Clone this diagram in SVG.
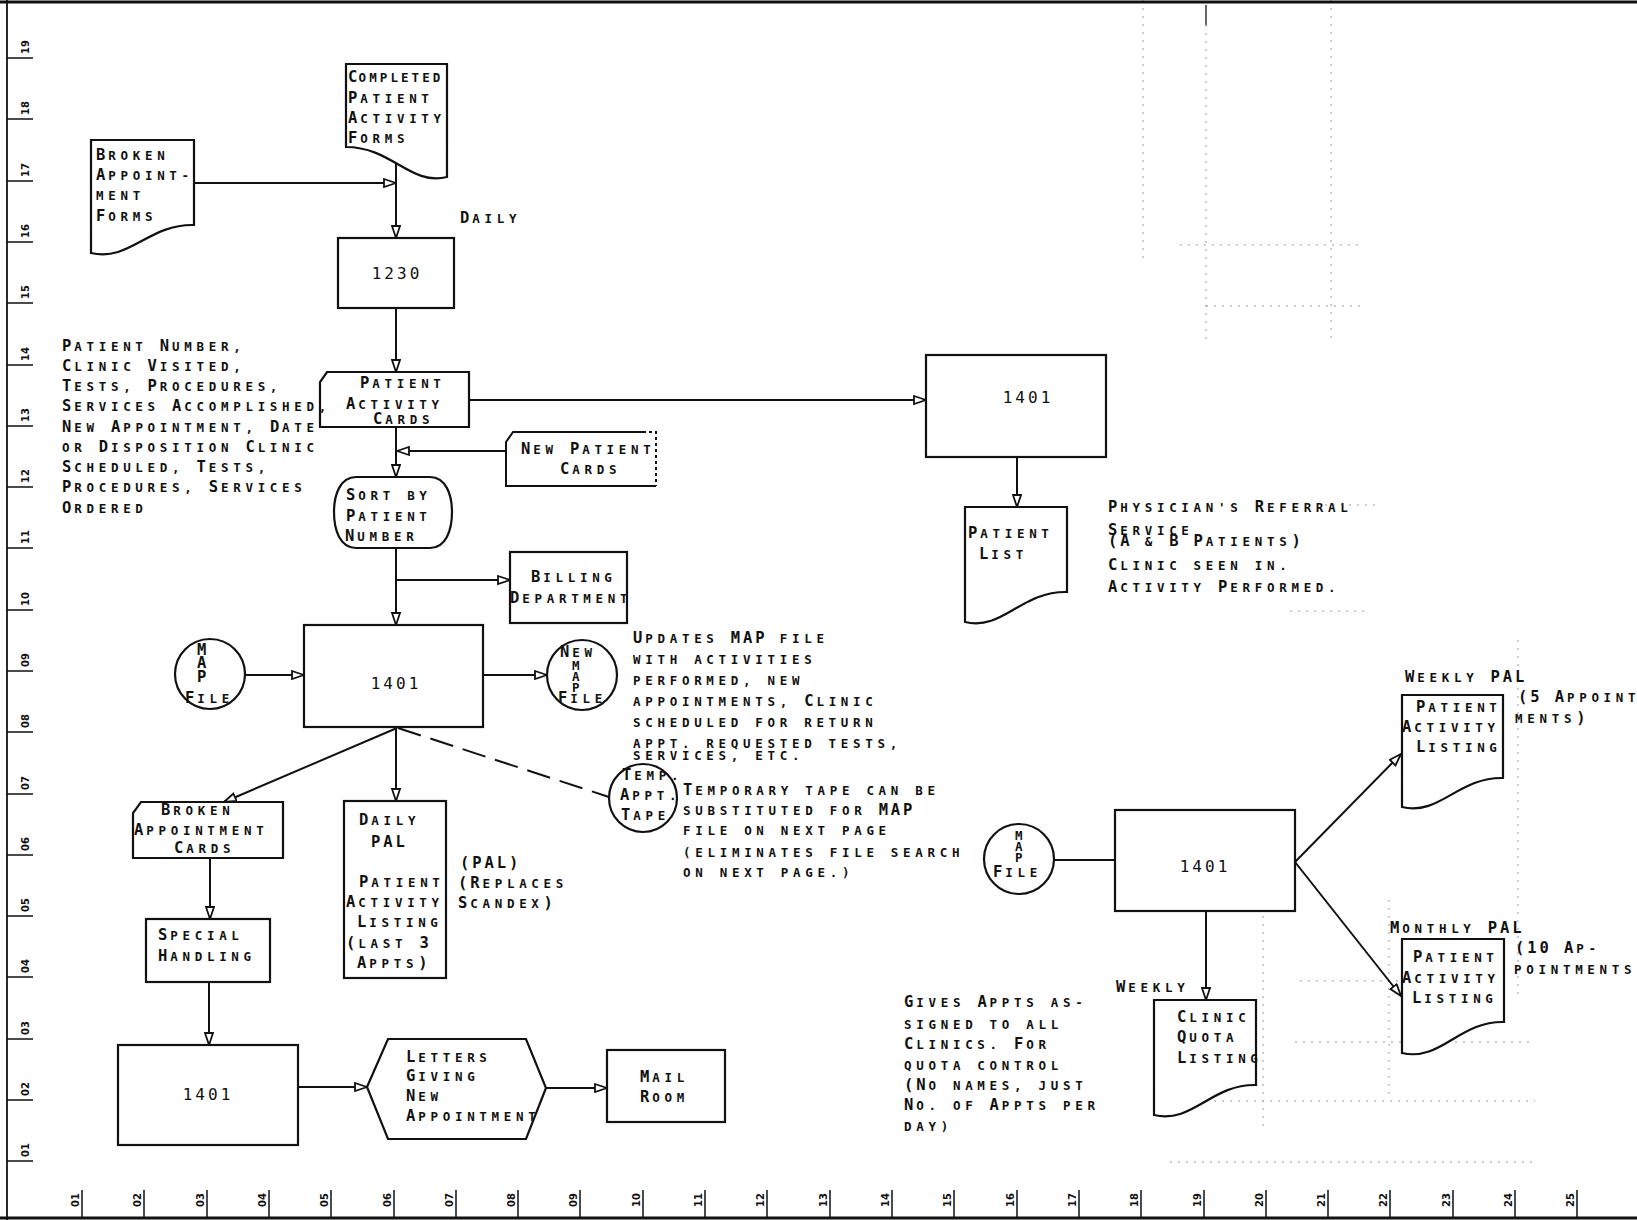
<svg xmlns="http://www.w3.org/2000/svg" width="1637" height="1220" viewBox="0 0 1637 1220">
<defs>
<style>
.t{font-family:"DejaVu Sans Mono","Liberation Mono",monospace;font-size:12.5px;font-weight:bold;letter-spacing:4.7px;fill:#111}
.c{font-size:15.5px;letter-spacing:2.9px}
.d{font-family:"DejaVu Sans Mono","Liberation Mono",monospace;font-size:16px;letter-spacing:3px;fill:#111;text-anchor:middle}
.b{fill:#fff;stroke:#111;stroke-width:2.2}
.ln{fill:none;stroke:#111;stroke-width:2}
.ax{font-family:"DejaVu Sans","Liberation Sans",sans-serif;font-size:10px;font-weight:bold;fill:#111;text-anchor:middle}
.g{fill:none;stroke:#9a9a9a;stroke-width:1;stroke-dasharray:2 6}
</style>
<marker id="ah" viewBox="0 0 14 10" refX="13" refY="5" markerWidth="14" markerHeight="10" markerUnits="userSpaceOnUse" orient="auto">
<path d="M1,1 L13,5 L1,9 Z" fill="#fff" stroke="#111" stroke-width="1.8"/>
</marker>
</defs>
<rect width="1637" height="1220" fill="#fff"/>

<g id="grid">
<path class="g" d="M1143,0 V262 M1206,25 V340 M1331,0 V340 M1180,245 H1362 M1206,306 H1362 M1518,640 V1000 M1263,900 V1130 M1389,900 V1100 M1300,981 H1400 M1295,1042 H1535 M1206,1101 H1535 M1170,1162 H1535 M1325,505 H1375 M1290,611 H1370"/>
<path d="M1206,5 V25" stroke="#333" stroke-width="1.5"/>
</g>

<g id="axes">
<path d="M0,2 H1637" stroke="#111" stroke-width="3"/>
<path d="M0,1218 H1637" stroke="#111" stroke-width="3"/>
<path d="M7,0 V1220" stroke="#111" stroke-width="1.8"/>
<g stroke="#111" stroke-width="1.5" fill="none">
<path d="M7,58H33 M7,119H33 M7,181H33 M7,242H33 M7,303H33 M7,365H33 M7,426H33 M7,487H33 M7,548H33 M7,610H33 M7,671H33 M7,732H33 M7,794H33 M7,855H33 M7,916H33 M7,977H33 M7,1039H33 M7,1100H33 M7,1161H33"/>
<path d="M82,1190V1218 M144,1190V1218 M207,1190V1218 M269,1190V1218 M331,1190V1218 M394,1190V1218 M456,1190V1218 M518,1190V1218 M580,1190V1218 M643,1190V1218 M705,1190V1218 M767,1190V1218 M830,1190V1218 M892,1190V1218 M954,1190V1218 M1017,1190V1218 M1079,1190V1218 M1141,1190V1218 M1204,1190V1218 M1266,1190V1218 M1328,1190V1218 M1390,1190V1218 M1453,1190V1218 M1515,1190V1218 M1577,1190V1218"/>
</g>
<g class="ax">
<text transform="translate(29,47) rotate(-90)">19</text>
<text transform="translate(29,108) rotate(-90)">18</text>
<text transform="translate(29,170) rotate(-90)">17</text>
<text transform="translate(29,231) rotate(-90)">16</text>
<text transform="translate(29,292) rotate(-90)">15</text>
<text transform="translate(29,354) rotate(-90)">14</text>
<text transform="translate(29,415) rotate(-90)">13</text>
<text transform="translate(29,476) rotate(-90)">12</text>
<text transform="translate(29,537) rotate(-90)">11</text>
<text transform="translate(29,599) rotate(-90)">10</text>
<text transform="translate(29,660) rotate(-90)">09</text>
<text transform="translate(29,721) rotate(-90)">08</text>
<text transform="translate(29,783) rotate(-90)">07</text>
<text transform="translate(29,844) rotate(-90)">06</text>
<text transform="translate(29,905) rotate(-90)">05</text>
<text transform="translate(29,966) rotate(-90)">04</text>
<text transform="translate(29,1028) rotate(-90)">03</text>
<text transform="translate(29,1089) rotate(-90)">02</text>
<text transform="translate(29,1150) rotate(-90)">01</text>
<text transform="translate(79,1200) rotate(-90)">01</text>
<text transform="translate(141,1200) rotate(-90)">02</text>
<text transform="translate(204,1200) rotate(-90)">03</text>
<text transform="translate(266,1200) rotate(-90)">04</text>
<text transform="translate(328,1200) rotate(-90)">05</text>
<text transform="translate(391,1200) rotate(-90)">06</text>
<text transform="translate(453,1200) rotate(-90)">07</text>
<text transform="translate(515,1200) rotate(-90)">08</text>
<text transform="translate(577,1200) rotate(-90)">09</text>
<text transform="translate(640,1200) rotate(-90)">10</text>
<text transform="translate(702,1200) rotate(-90)">11</text>
<text transform="translate(764,1200) rotate(-90)">12</text>
<text transform="translate(827,1200) rotate(-90)">13</text>
<text transform="translate(889,1200) rotate(-90)">14</text>
<text transform="translate(951,1200) rotate(-90)">15</text>
<text transform="translate(1014,1200) rotate(-90)">16</text>
<text transform="translate(1076,1200) rotate(-90)">17</text>
<text transform="translate(1138,1200) rotate(-90)">18</text>
<text transform="translate(1201,1200) rotate(-90)">19</text>
<text transform="translate(1263,1200) rotate(-90)">20</text>
<text transform="translate(1325,1200) rotate(-90)">21</text>
<text transform="translate(1387,1200) rotate(-90)">22</text>
<text transform="translate(1450,1200) rotate(-90)">23</text>
<text transform="translate(1512,1200) rotate(-90)">24</text>
<text transform="translate(1574,1200) rotate(-90)">25</text>
</g>
</g>

<g id="connectors">
<path class="ln" marker-end="url(#ah)" d="M194,183 H396"/>
<path class="ln" marker-end="url(#ah)" d="M396,163 V238"/>
<path class="ln" marker-end="url(#ah)" d="M396,308 V372"/>
<path class="ln" marker-end="url(#ah)" d="M469,400 H926"/>
<path class="ln" marker-end="url(#ah)" d="M1017,457 V507"/>
<path class="ln" marker-end="url(#ah)" d="M396,427 V477"/>
<path class="ln" marker-end="url(#ah)" d="M506,451 H397"/>
<path class="ln" marker-end="url(#ah)" d="M396,580 H510"/>
<path class="ln" marker-end="url(#ah)" d="M396,548 V625"/>
<path class="ln" marker-end="url(#ah)" d="M245,675 H304"/>
<path class="ln" marker-end="url(#ah)" d="M483,675 H547"/>
<path class="ln" marker-end="url(#ah)" d="M397,728 L224,802"/>
<path class="ln" marker-end="url(#ah)" d="M396,728 V801"/>
<path class="ln" stroke-dasharray="24 10" d="M398,728 L609,797"/>
<path class="ln" marker-end="url(#ah)" d="M210,858 V919"/>
<path class="ln" marker-end="url(#ah)" d="M209,982 V1045"/>
<path class="ln" marker-end="url(#ah)" d="M298,1087 H367"/>
<path class="ln" marker-end="url(#ah)" d="M546,1088 H607"/>
<path class="ln" d="M1054,860 H1115"/>
<path class="ln" marker-end="url(#ah)" d="M1295,862 L1401,754"/>
<path class="ln" marker-end="url(#ah)" d="M1295,862 L1401,996"/>
<path class="ln" marker-end="url(#ah)" d="M1206,911 V1000"/>
</g>

<g id="broken-appointment-forms">
<path class="b" d="M91,140 H194 V225 C148,224 130,262 91,253 Z"/>
<text class="t" x="96" y="160"><tspan class="c">B</tspan>ROKEN</text>
<text class="t" x="96" y="180"><tspan class="c">A</tspan>PPOINT-</text>
<text class="t" x="96" y="200">MENT</text>
<text class="t" x="96" y="221"><tspan class="c">F</tspan>ORMS</text>
</g>

<g id="completed-forms">
<path class="b" d="M346,64 H447 V177 C410,186 392,147 346,147 Z"/>
<text class="t" x="348" y="82" textLength="97" lengthAdjust="spacing"><tspan class="c">C</tspan>OMPLETED</text>
<text class="t" x="348" y="103"><tspan class="c">P</tspan>ATIENT</text>
<text class="t" x="348" y="123"><tspan class="c">A</tspan>CTIVITY</text>
<text class="t" x="348" y="143"><tspan class="c">F</tspan>ORMS</text>
</g>

<g id="daily-label">
<text class="t" x="460" y="223"><tspan class="c">D</tspan>AILY</text>
</g>

<g id="p1230">
<rect class="b" x="338" y="238" width="116" height="70"/>
<text class="d" x="397" y="279">1230</text>
</g>

<g id="patient-activity-cards">
<path class="b" d="M327,372 H469 V427 H320 V382 Z"/>
<text class="t" x="360" y="388"><tspan class="c">P</tspan>ATIENT</text>
<text class="t" x="346" y="409"><tspan class="c">A</tspan>CTIVITY</text>
<text class="t" x="373" y="424"><tspan class="c">C</tspan>ARDS</text>
</g>

<g id="card-fields-note">
<text class="t" x="62" y="351"><tspan class="c">P</tspan>ATIENT <tspan class="c">N</tspan>UMBER,</text>
<text class="t" x="62" y="371"><tspan class="c">C</tspan>LINIC <tspan class="c">V</tspan>ISITED,</text>
<text class="t" x="62" y="391"><tspan class="c">T</tspan>ESTS, <tspan class="c">P</tspan>ROCEDURES,</text>
<text class="t" x="62" y="411"><tspan class="c">S</tspan>ERVICES <tspan class="c">A</tspan>CCOMPLISHED,</text>
<text class="t" x="62" y="432"><tspan class="c">N</tspan>EW <tspan class="c">A</tspan>PPOINTMENT, <tspan class="c">D</tspan>ATE</text>
<text class="t" x="62" y="452">OR <tspan class="c">D</tspan>ISPOSITION <tspan class="c">C</tspan>LINIC</text>
<text class="t" x="62" y="472"><tspan class="c">S</tspan>CHEDULED, <tspan class="c">T</tspan>ESTS,</text>
<text class="t" x="62" y="492"><tspan class="c">P</tspan>ROCEDURES, <tspan class="c">S</tspan>ERVICES</text>
<text class="t" x="62" y="513"><tspan class="c">O</tspan>RDERED</text>
</g>

<g id="new-patient-cards">
<path d="M513,432 H656 V486 H506 V442 Z" fill="#fff"/>
<path class="ln" stroke-width="2.2" d="M643,432 H513 L506,442 V486 H656"/>
<path class="ln" stroke-width="1.5" stroke-dasharray="3 3" d="M643,432 H656 V486"/>
<text class="t" x="521" y="454"><tspan class="c">N</tspan>EW <tspan class="c">P</tspan>ATIENT</text>
<text class="t" x="560" y="474"><tspan class="c">C</tspan>ARDS</text>
</g>

<g id="sort">
<path class="b" d="M356,477 H430 C446,477 452,495 452,512 C452,530 446,548 430,548 H356 C340,548 334,530 334,512 C334,495 340,477 356,477 Z"/>
<text class="t" x="346" y="500"><tspan class="c">S</tspan>ORT BY</text>
<text class="t" x="346" y="521"><tspan class="c">P</tspan>ATIENT</text>
<text class="t" x="345" y="541"><tspan class="c">N</tspan>UMBER</text>
</g>

<g id="billing">
<rect class="b" x="510" y="552" width="117" height="71"/>
<text class="t" x="531" y="582"><tspan class="c">B</tspan>ILLING</text>
<text class="t" x="510" y="603"><tspan class="c">D</tspan>EPARTMENT</text>
</g>

<g id="p1401-referral">
<rect class="b" x="926" y="355" width="180" height="102"/>
<text class="d" x="1028" y="403">1401</text>
</g>

<g id="patient-list">
<path class="b" d="M965,507 H1067 V592 C1021,591 1003,631 965,622 Z"/>
<text class="t" x="968" y="538"><tspan class="c">P</tspan>ATIENT</text>
<text class="t" x="979" y="559"><tspan class="c">L</tspan>IST</text>
</g>

<g id="referral-note">
<text class="t" x="1108" y="512"><tspan class="c">P</tspan>HYSICIAN'S <tspan class="c">R</tspan>EFERRAL</text>
<text class="t" x="1108" y="535"><tspan class="c">S</tspan>ERVICE</text>
<text class="t" x="1108" y="546"><tspan class="c">(A</tspan> &amp; <tspan class="c">B P</tspan>ATIENTS<tspan class="c">)</tspan></text>
<text class="t" x="1108" y="570"><tspan class="c">C</tspan>LINIC SEEN IN.</text>
<text class="t" x="1108" y="592"><tspan class="c">A</tspan>CTIVITY <tspan class="c">P</tspan>ERFORMED.</text>
</g>

<g id="map-file">
<circle class="b" cx="210" cy="674" r="35"/>
<text class="t c" x="203" y="655" text-anchor="middle">M</text>
<text class="t c" x="203" y="668" text-anchor="middle">A</text>
<text class="t c" x="203" y="682" text-anchor="middle">P</text>
<text class="t" x="185" y="703"><tspan class="c">F</tspan>ILE</text>
</g>

<g id="p1401-main">
<rect class="b" x="304" y="625" width="179" height="102"/>
<text class="d" x="396" y="689">1401</text>
</g>

<g id="new-map-file">
<circle class="b" cx="582" cy="675" r="35"/>
<text class="t" x="560" y="657"><tspan class="c">N</tspan>EW</text>
<text class="t" x="578" y="670" text-anchor="middle">M</text>
<text class="t" x="578" y="681" text-anchor="middle">A</text>
<text class="t" x="578" y="692" text-anchor="middle">P</text>
<text class="t" x="558" y="703"><tspan class="c">F</tspan>ILE</text>
</g>

<g id="updates-note">
<text class="t" x="633" y="643"><tspan class="c">U</tspan>PDATES <tspan class="c">MAP</tspan> FILE</text>
<text class="t" x="633" y="664">WITH ACTIVITIES</text>
<text class="t" x="633" y="685">PERFORMED, NEW</text>
<text class="t" x="633" y="706">APPOINTMENTS, <tspan class="c">C</tspan>LINIC</text>
<text class="t" x="633" y="727">SCHEDULED FOR RETURN</text>
<text class="t" x="633" y="748">APPT. REQUESTED TESTS,</text>
<text class="t" x="633" y="760">SERVICES, ETC.</text>
</g>

<g id="temp-tape">
<circle class="b" cx="643" cy="798" r="34"/>
<text class="t" x="622" y="780"><tspan class="c">T</tspan>EMP.</text>
<text class="t" x="620" y="800"><tspan class="c">A</tspan>PPT.</text>
<text class="t" x="621" y="820"><tspan class="c">T</tspan>APE</text>
</g>

<g id="temp-note">
<text class="t" x="683" y="795"><tspan class="c">T</tspan>EMPORARY TAPE CAN BE</text>
<text class="t" x="683" y="815">SUBSTITUTED FOR <tspan class="c">MAP</tspan></text>
<text class="t" x="683" y="835">FILE ON NEXT PAGE</text>
<text class="t" x="683" y="857">(ELIMINATES FILE SEARCH</text>
<text class="t" x="683" y="877">ON NEXT PAGE.)</text>
</g>

<g id="broken-appointment-cards">
<path class="b" d="M141,802 H283 V858 H133 V813 Z"/>
<text class="t" x="161" y="815"><tspan class="c">B</tspan>ROKEN</text>
<text class="t" x="134" y="835"><tspan class="c">A</tspan>PPOINTMENT</text>
<text class="t" x="174" y="853"><tspan class="c">C</tspan>ARDS</text>
</g>

<g id="daily-pal">
<rect class="b" x="344" y="801" width="102" height="177"/>
<text class="t" x="359" y="825"><tspan class="c">D</tspan>AILY</text>
<text class="t" x="371" y="847"><tspan class="c">PAL</tspan></text>
<text class="t" x="359" y="887"><tspan class="c">P</tspan>ATIENT</text>
<text class="t" x="346" y="907"><tspan class="c">A</tspan>CTIVITY</text>
<text class="t" x="357" y="927"><tspan class="c">L</tspan>ISTING</text>
<text class="t" x="346" y="948"><tspan class="c">(</tspan>LAST <tspan class="c">3</tspan></text>
<text class="t" x="357" y="968"><tspan class="c">A</tspan>PPTS<tspan class="c">)</tspan></text>
</g>

<g id="pal-note">
<text class="t" x="460" y="868"><tspan class="c">(PAL)</tspan></text>
<text class="t" x="458" y="888"><tspan class="c">(R</tspan>EPLACES</text>
<text class="t" x="458" y="908"><tspan class="c">S</tspan>CANDEX<tspan class="c">)</tspan></text>
</g>

<g id="special-handling">
<rect class="b" x="146" y="919" width="124" height="63"/>
<text class="t" x="158" y="940"><tspan class="c">S</tspan>PECIAL</text>
<text class="t" x="158" y="961"><tspan class="c">H</tspan>ANDLING</text>
</g>

<g id="p1401-letters">
<rect class="b" x="118" y="1045" width="180" height="100"/>
<text class="d" x="208" y="1100">1401</text>
</g>

<g id="letters">
<polygon class="b" points="367,1087 388,1039 526,1039 546,1088 526,1139 388,1139"/>
<text class="t" x="406" y="1062"><tspan class="c">L</tspan>ETTERS</text>
<text class="t" x="406" y="1081"><tspan class="c">G</tspan>IVING</text>
<text class="t" x="406" y="1101"><tspan class="c">N</tspan>EW</text>
<text class="t" x="406" y="1121"><tspan class="c">A</tspan>PPOINTMENT</text>
</g>

<g id="mail-room">
<rect class="b" x="607" y="1050" width="118" height="72"/>
<text class="t" x="640" y="1082"><tspan class="c">M</tspan>AIL</text>
<text class="t" x="640" y="1102"><tspan class="c">R</tspan>OOM</text>
</g>

<g id="map-file-2">
<circle class="b" cx="1019" cy="859" r="35"/>
<text class="t" x="1021" y="840" text-anchor="middle">M</text>
<text class="t" x="1021" y="851" text-anchor="middle">A</text>
<text class="t" x="1021" y="862" text-anchor="middle">P</text>
<text class="t" x="993" y="877"><tspan class="c">F</tspan>ILE</text>
</g>

<g id="p1401-pal">
<rect class="b" x="1115" y="810" width="180" height="101"/>
<text class="d" x="1205" y="872">1401</text>
</g>

<g id="weekly-pal">
<path class="b" d="M1402,695 H1503 V778 C1458,777 1440,816 1402,807 Z"/>
<text class="t" x="1416" y="712"><tspan class="c">P</tspan>ATIENT</text>
<text class="t" x="1402" y="732"><tspan class="c">A</tspan>CTIVITY</text>
<text class="t" x="1416" y="752"><tspan class="c">L</tspan>ISTING</text>
<text class="t" x="1405" y="682"><tspan class="c">W</tspan>EEKLY <tspan class="c">PAL</tspan></text>
<text class="t" x="1518" y="702"><tspan class="c">(5 A</tspan>PPOINT</text>
<text class="t" x="1515" y="723">MENTS<tspan class="c">)</tspan></text>
</g>

<g id="monthly-pal">
<path class="b" d="M1402,939 H1504 V1022 C1459,1021 1441,1062 1402,1053 Z"/>
<text class="t" x="1413" y="962"><tspan class="c">P</tspan>ATIENT</text>
<text class="t" x="1402" y="983"><tspan class="c">A</tspan>CTIVITY</text>
<text class="t" x="1412" y="1003"><tspan class="c">L</tspan>ISTING</text>
<text class="t" x="1390" y="933"><tspan class="c">M</tspan>ONTHLY <tspan class="c">PAL</tspan></text>
<text class="t" x="1515" y="953"><tspan class="c">(10 A</tspan>P-</text>
<text class="t" x="1514" y="974">POINTMENTS</text>
</g>

<g id="clinic-quota">
<path class="b" d="M1154,1000 H1256 V1085 C1211,1084 1193,1124 1154,1115 Z"/>
<text class="t" x="1177" y="1022"><tspan class="c">C</tspan>LINIC</text>
<text class="t" x="1177" y="1042"><tspan class="c">Q</tspan>UOTA</text>
<text class="t" x="1177" y="1063"><tspan class="c">L</tspan>ISTING</text>
<text class="t" x="1116" y="992"><tspan class="c">W</tspan>EEKLY</text>
</g>

<g id="quota-note">
<text class="t" x="904" y="1007"><tspan class="c">G</tspan>IVES <tspan class="c">A</tspan>PPTS AS-</text>
<text class="t" x="904" y="1029">SIGNED TO ALL</text>
<text class="t" x="904" y="1049"><tspan class="c">C</tspan>LINICS. <tspan class="c">F</tspan>OR</text>
<text class="t" x="904" y="1070">QUOTA CONTROL</text>
<text class="t" x="904" y="1090"><tspan class="c">(N</tspan>O NAMES, JUST</text>
<text class="t" x="904" y="1110"><tspan class="c">N</tspan>O. OF <tspan class="c">A</tspan>PPTS PER</text>
<text class="t" x="904" y="1131">DAY)</text>
</g>
</svg>
